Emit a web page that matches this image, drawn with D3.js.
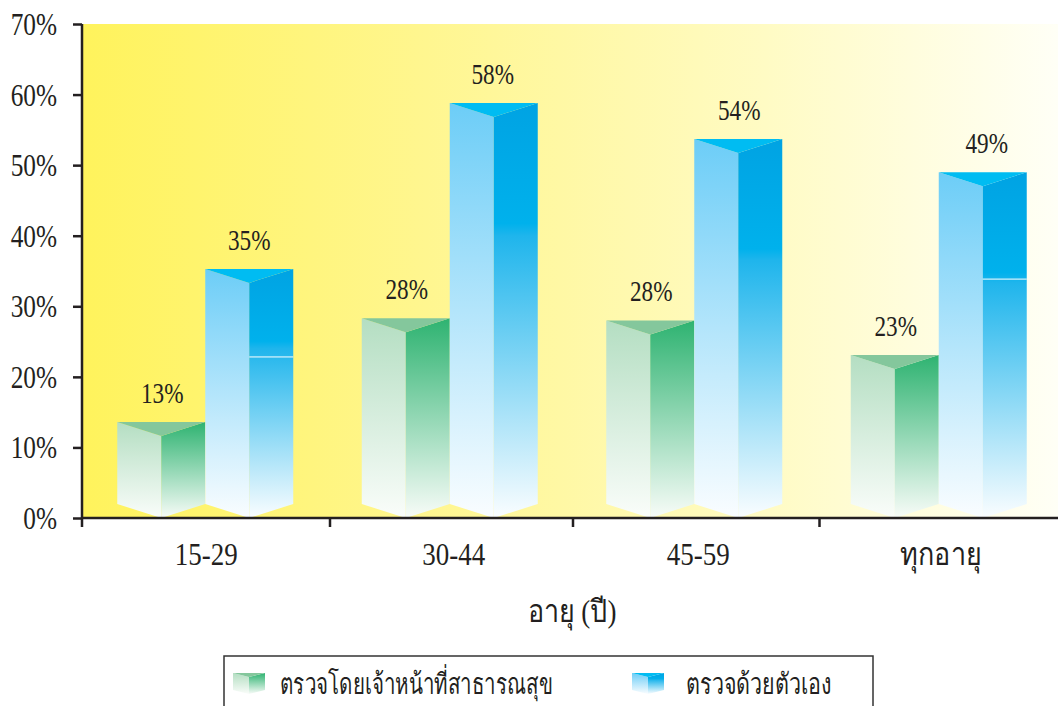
<!DOCTYPE html>
<html>
<head>
<meta charset="utf-8">
<script src="https://cdnjs.cloudflare.com/ajax/libs/d3/7.8.5/d3.min.js"></script>
<style>
body { margin: 0; background: #fff; overflow: hidden; }
text { font-family: "Liberation Serif", "Noto Sans", serif; fill: #231f20; }
</style>
</head>
<body>
<svg id="chart" width="1058" height="706"></svg>
<script>
var ageGroups = ["15-29", "30-44", "45-59", "ทุกอายุ"];
var officerValues = [13.6, 28.3, 28, 23.1];
var selfValues = [35.3, 58.8, 53.7, 49];
var officerLabels = ["13%", "28%", "28%", "23%"];
var selfLabels = ["35%", "58%", "54%", "49%"];
var yTicks = [0, 10, 20, 30, 40, 50, 60, 70];
var legendNames = ["ตรวจโดยเจ้าหน้าที่สาธารณสุข", "ตรวจด้วยตัวเอง"];

var svg = d3.select("#chart");
var defs = svg.append("defs");

var plotLeft = 83, plotRight = 1058, plotTop = 24, plotBottom = 518;

var yScale = d3.scaleLinear().domain([0, 70]).range([plotBottom, plotTop]);
var xScale = d3.scaleBand().domain(ageGroups).range([83, 1061]);
var barWidth = 88, lip = 14;

function gradient(id, x2, stops) {
    var g = defs.append("linearGradient").attr("id", id)
        .attr("x1", 0).attr("y1", 0).attr("x2", x2).attr("y2", x2 ? 0 : 1);
    stops.forEach(function (s) {
        g.append("stop").attr("offset", s[0]).attr("stop-color", s[1]);
    });
}

// squeeze text sideways, the original face is tall and narrow
function condense(sel, k) {
    sel.attr("textLength", function () { return this.getComputedTextLength() * k; })
        .attr("lengthAdjust", "spacingAndGlyphs");
}

gradient("bg", 1, [[0, "#fff35c"], [0.35, "#fff68f"], [0.7, "#fffbc4"], [1, "#fffff6"]]);
gradient("greenLeft", 0, [[0, "#b4dec2"], [1, "#fafdfa"]]);
gradient("greenRight", 0, [[0, "#2eb371"], [1, "#f8fcf8"]]);
gradient("blueLeft", 0, [[0, "#6ccdf7"], [1, "#fafdff"]]);
gradient("blueRight", 0, [[0, "#00a3e3"], [0.29, "#00b1ec"], [0.32, "#1fb5ec"], [1, "#fafdff"]]);

svg.append("rect")
    .attr("x", plotLeft).attr("y", plotTop)
    .attr("width", plotRight - plotLeft).attr("height", plotBottom - plotTop)
    .attr("fill", "url(#bg)");

function drawBar(g, x, value, prefix, topColor) {
    var yt = yScale(value), y0 = yScale(0), w = barWidth, m = x + w / 2;
    g.append("polygon")
        .attr("points", [[x, yt], [m, yt + lip], [m, y0], [x, y0 - lip]].join(" "))
        .attr("fill", "url(#" + prefix + "Left)");
    g.append("polygon")
        .attr("points", [[m, yt + lip], [x + w, yt], [x + w, y0 - lip], [m, y0]].join(" "))
        .attr("fill", "url(#" + prefix + "Right)");
    g.append("polygon")
        .attr("points", [[x, yt], [x + w, yt], [m, yt + lip]].join(" "))
        .attr("fill", topColor);
}

ageGroups.forEach(function (name, i) {
    var c = xScale(name) + xScale.bandwidth() / 2;
    var g = svg.append("g");
    drawBar(g, c - barWidth, officerValues[i], "green", "#84c79c");
    drawBar(g, c, selfValues[i], "blue", "#00bcf2");

    // thin light seam on the right face of two of the blue bars
    if (i == 0 || i == 3) {
        var yt = yScale(selfValues[i]) + lip;
        var ys = yt + (yScale(0) - yt) * (i == 3 ? 0.28 : 0.315);
        g.append("line")
            .attr("x1", c + barWidth / 2).attr("x2", c + barWidth)
            .attr("y1", ys).attr("y2", ys)
            .attr("stroke", "#fff").attr("stroke-width", 1);
    }

    var selfNudge = [0, -1, 1, 4][i];
    g.append("text").attr("x", c - barWidth / 2 + 1).attr("y", yScale(officerValues[i]) - 19)
        .attr("text-anchor", "middle").attr("font-size", 29).text(officerLabels[i])
        .call(condense, 0.8);
    g.append("text").attr("x", c + barWidth / 2 + selfNudge).attr("y", yScale(selfValues[i]) - 19)
        .attr("text-anchor", "middle").attr("font-size", 29).text(selfLabels[i])
        .call(condense, 0.8);
});

var yAxis = svg.append("g")
    .attr("transform", "translate(" + 82 + ",0)")
    .call(d3.axisLeft(yScale).tickValues(yTicks).tickSize(9).tickPadding(16)
        .tickFormat(function (d) { return d + "%"; }));
yAxis.select(".domain").remove();
yAxis.selectAll("line").attr("stroke", "#231f20").attr("stroke-width", 2.5);
yAxis.selectAll("text").attr("font-size", 32).style("font-family", null).attr("fill", null)
    .attr("dy", 10.5).attr("x", -25).call(condense, 0.79);

// y axis line runs past zero down to the bottom tick length
svg.append("line").attr("x1", 82).attr("x2", 82).attr("y1", plotTop).attr("y2", 527)
    .attr("stroke", "#231f20").attr("stroke-width", 2.5);

var xAxis = svg.append("g")
    .attr("transform", "translate(0," + plotBottom + ")")
    .call(d3.axisBottom(xScale).tickSize(0));
xAxis.select(".domain").remove();
xAxis.selectAll("text").attr("font-size", 31).style("font-family", null).attr("fill", null)
    .attr("y", 47).attr("dy", 0).attr("x", function (d, i) { return i == 0 ? 1 : i == 3 ? 2 : 4; })
    .call(condense, 0.87);

svg.append("line").attr("x1", 82).attr("x2", plotRight).attr("y1", plotBottom).attr("y2", plotBottom)
    .attr("stroke", "#231f20").attr("stroke-width", 2.5);

ageGroups.slice(1).forEach(function (name, i) {
    var x = xScale(name) + [2.5, 1, 3][i];
    svg.append("line").attr("x1", x).attr("x2", x).attr("y1", plotBottom).attr("y2", 527)
        .attr("stroke", "#231f20").attr("stroke-width", 2.5);
});

svg.append("text").attr("x", 572).attr("y", 622).attr("text-anchor", "middle")
    .attr("font-size", 31).attr("textLength", 89).attr("lengthAdjust", "spacingAndGlyphs")
    .text("อายุ (ปี)");

// legend, its box runs off the bottom of the page
svg.append("rect").attr("x", 224).attr("y", 656).attr("width", 649).attr("height", 70)
    .attr("fill", "#fff").attr("stroke", "#333").attr("stroke-width", 1.5);

function drawSwatch(x, prefix, topColor) {
    var g = svg.append("g");
    var w = 32, top = 673, bottom = 694, m = x + w / 2, l = 4;
    g.append("polygon").attr("points", [[x, top], [m, top + l], [m, bottom], [x, bottom - l]].join(" "))
        .attr("fill", "url(#" + prefix + "Left)");
    g.append("polygon").attr("points", [[m, top + l], [x + w, top], [x + w, bottom - l], [m, bottom]].join(" "))
        .attr("fill", "url(#" + prefix + "Right)");
    g.append("polygon").attr("points", [[x, top], [x + w, top], [m, top + l]].join(" "))
        .attr("fill", topColor);
}
drawSwatch(233, "green", "#84c79c");
drawSwatch(632, "blue", "#00bcf2");

svg.append("text").attr("x", 280).attr("y", 694).attr("font-size", 29)
    .attr("textLength", 273).attr("lengthAdjust", "spacingAndGlyphs").text(legendNames[0]);
svg.append("text").attr("x", 686).attr("y", 694).attr("font-size", 29)
    .attr("textLength", 145).attr("lengthAdjust", "spacingAndGlyphs").text(legendNames[1]);
</script>
</body>
</html>
